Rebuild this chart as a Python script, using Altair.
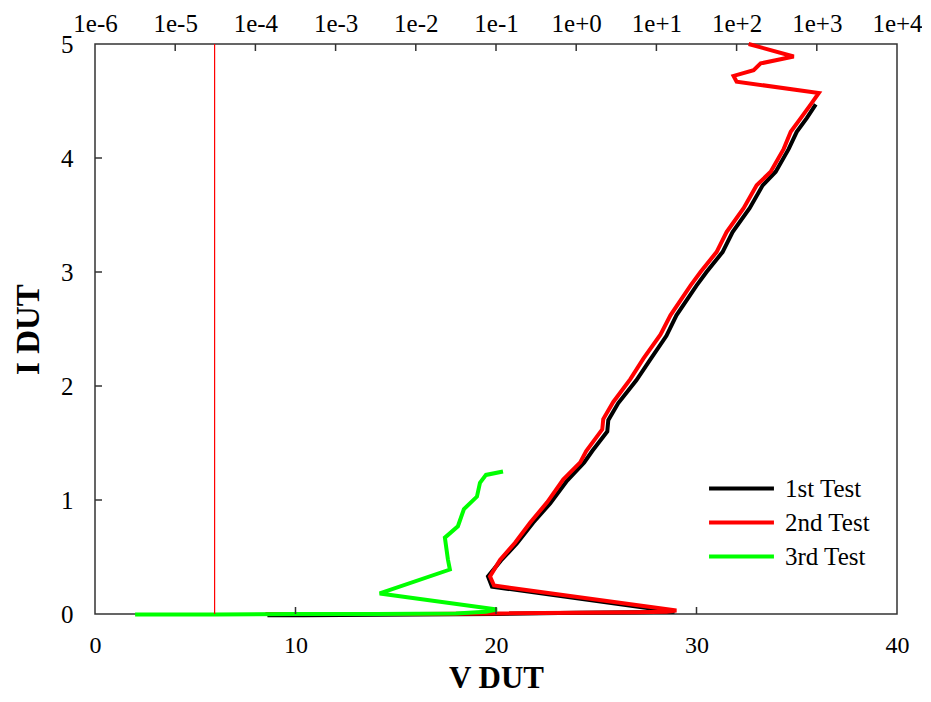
import altair as alt
import pandas as pd

# ---------------- data ----------------
tests = ["1st Test", "2nd Test", "3rd Test"]
colors = ["#000000", "#ff0000", "#00ff00"]

# 1st Test (V DUT, I DUT)
v1 = [8.6, 9.5, 10.4, 20.0, 24.0, 27.0, 28.9, 19.8, 19.6, 20.25, 21.05, 21.85, 22.7, 23.55,
      24.4, 24.8, 25.55, 25.6, 26.1, 27.0, 27.65, 28.5, 29.0, 30.0, 30.5, 31.3, 31.8,
      32.65, 33.3, 33.95, 34.6, 35.0, 35.5, 35.95]
i1 = [-0.01, -0.01, -0.01, 0.0, 0.01, 0.015, 0.02, 0.24, 0.33, 0.47, 0.62, 0.80, 0.97, 1.17,
      1.33, 1.43, 1.60, 1.70, 1.85, 2.05, 2.22, 2.44, 2.62, 2.88, 3.0, 3.175, 3.35,
      3.56, 3.76, 3.88, 4.08, 4.23, 4.35, 4.47]

# 2nd Test
v2 = [8.5, 12.0, 16.0, 20.0, 24.0, 27.0, 28.5, 29.0, 19.9, 19.7, 20.2, 20.95, 21.7, 22.55,
      23.35, 24.2, 24.5, 25.3, 25.35, 25.85, 26.7, 27.35, 28.2, 28.7, 29.7, 30.2, 31.0,
      31.5, 32.35, 33.0, 33.7, 34.35, 34.7, 35.2, 35.7, 36.1, 32.0, 31.85, 32.85, 33.2,
      34.85, 32.6]
i2 = [0.0, 0.0, 0.0, 0.005, 0.01, 0.015, 0.02, 0.03, 0.25, 0.33, 0.475, 0.625, 0.80, 0.98,
      1.18, 1.33, 1.43, 1.62, 1.71, 1.86, 2.06, 2.24, 2.45, 2.62, 2.88, 3.0, 3.175,
      3.35, 3.56, 3.76, 3.88, 4.08, 4.23, 4.35, 4.47, 4.57, 4.67, 4.72, 4.77, 4.83,
      4.89, 5.0]

# 3rd Test
v3 = [2.0, 6.0, 10.0, 14.0, 18.0, 19.5, 20.05, 14.2, 17.7, 17.6, 17.45, 18.1, 18.4, 19.05,
      19.2, 19.5, 20.35]
i3 = [-0.005, -0.005, 0.0, 0.0, 0.005, 0.02, 0.04, 0.18, 0.39, 0.48, 0.67, 0.77, 0.92, 1.03,
      1.15, 1.22, 1.25]

# leakage (top log axis) of 2nd Test
leak_i = [0.0, 5.0]
leak_val = [3.1e-5, 3.1e-5]

v_ticks = [0, 10, 20, 30, 40]
i_ticks = [0, 1, 2, 3, 4, 5]
leak_ticks = [1e-6, 1e-5, 1e-4, 1e-3, 1e-2, 1e-1, 1e0, 1e1, 1e2, 1e3, 1e4]

# ---------------- tables ----------------
rows = []
for name, vs, cs in zip(tests, [v1, v2, v3], [i1, i2, i3]):
    for k, (v, c) in enumerate(zip(vs, cs)):
        rows.append({"test": name, "V": v, "I": c, "idx": k})
df = pd.DataFrame(rows)
leak_df = pd.DataFrame({"L": leak_val, "I": leak_i})
vt_df = pd.DataFrame({"V": v_ticks[1:-1]})
it_df = pd.DataFrame({"I": i_ticks[1:-1]})
lt_df = pd.DataFrame({"L": leak_ticks[1:-1]})

FONT = "Liberation Serif"
W, H = 802, 570
AX = "#333333"

xscale = alt.Scale(domain=[0, 40], nice=False, zero=False)
yscale = alt.Scale(domain=[0, 5], nice=False, zero=False)
lscale = alt.Scale(type="log", domain=[1e-6, 1e4], nice=False)

x_axis = alt.Axis(title="V DUT", values=v_ticks, ticks=False, domain=False,
                  grid=False, labelFlush=False, labelPadding=19,
                  titleY=73.3, titleBaseline="alphabetic",
                  labelFontSize=24, titleFontSize=31)
y_axis = alt.Axis(title="I DUT", values=i_ticks, ticks=False, domain=False,
                  grid=False, labelFlush=False, labelPadding=22, titlePadding=15,
                  labelFontSize=25, titleFontSize=33)
l_axis = alt.Axis(orient="top", title=None, values=leak_ticks, ticks=False,
                  domain=False, grid=False, labelFlush=False, labelOverlap=False,
                  labelPadding=8, labelFontSize=25,
                  labelExpr="'1e' + (round(log(datum.value)/LN10) >= 0 ? '+' : '') + round(log(datum.value)/LN10)")

curves = alt.Chart(df).mark_line(strokeWidth=4).encode(
    x=alt.X("V:Q", scale=xscale, axis=x_axis),
    y=alt.Y("I:Q", scale=yscale, axis=y_axis),
    color=alt.Color("test:N", scale=alt.Scale(domain=tests, range=colors),
                    legend=alt.Legend(title=None, orient="none", legendX=626, legendY=424,
                                      symbolType="M-1.8,0H1.8", symbolSize=1300,
                                      symbolStrokeWidth=4, labelFontSize=25, labelFont=FONT,
                                      labelOffset=23, rowPadding=0, labelColor="black")),
    order="idx:Q",
)

bottom_ticks = alt.Chart(vt_df).mark_rule(color=AX, strokeWidth=1.5).encode(
    x=alt.X("V:Q", scale=xscale, axis=x_axis), y=alt.value(H), y2=alt.value(H - 7))
left_ticks = alt.Chart(it_df).mark_rule(color=AX, strokeWidth=1.5).encode(
    y=alt.Y("I:Q", scale=yscale, axis=y_axis), x=alt.value(0), x2=alt.value(7))

main = alt.layer(curves, bottom_ticks, left_ticks)

leak = alt.Chart(leak_df).mark_line(color="#ff0000", strokeWidth=1.2).encode(
    x=alt.X("L:Q", scale=lscale, axis=l_axis),
    y=alt.Y("I:Q", scale=yscale, axis=y_axis),
    order="I:Q",
)
top_ticks = alt.Chart(lt_df).mark_rule(color=AX, strokeWidth=1.5).encode(
    x=alt.X("L:Q", scale=lscale, axis=l_axis), y=alt.value(0), y2=alt.value(7))

leak_layer = alt.layer(leak, top_ticks)

chart = alt.layer(main, leak_layer).resolve_scale(x="independent").properties(
    width=W, height=H,
    padding={"left": 87, "top": 36, "right": 25, "bottom": 80},
    autosize=alt.AutoSizeParams(type="none"),
    background="white",
).configure_view(stroke=AX, strokeWidth=1.5).configure_axis(
    labelFont=FONT, titleFont=FONT, labelColor="black", titleColor="black",
    titleFontWeight="bold",
)

chart.save("out.html", embed_options={"renderer": "svg", "actions": False})
